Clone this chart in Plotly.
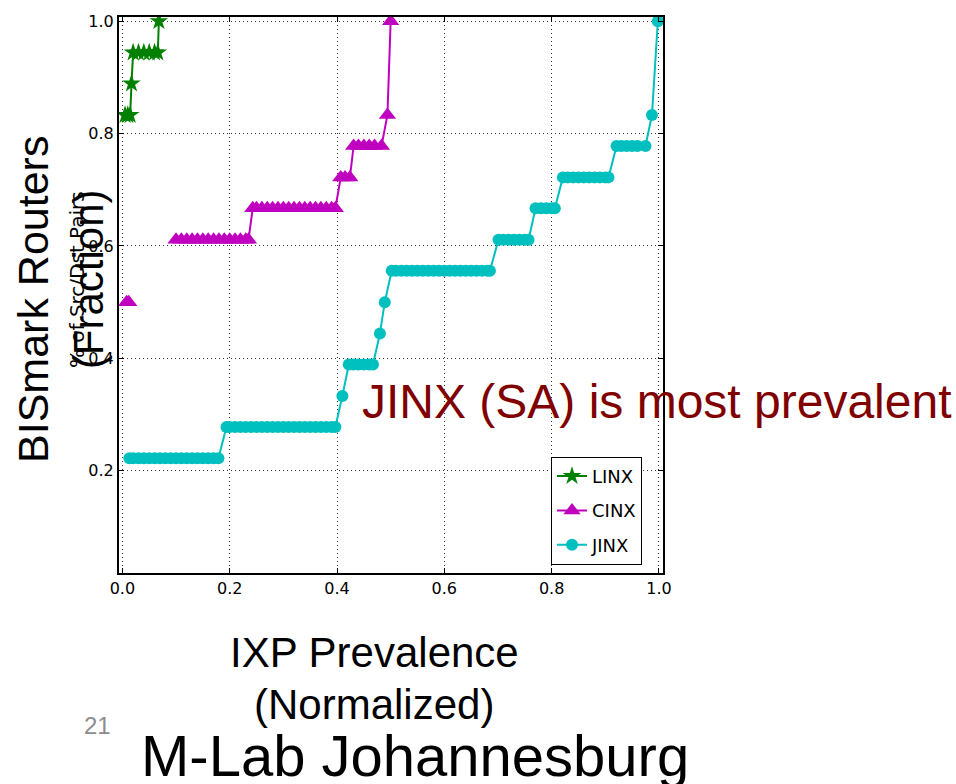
import plotly.graph_objects as go

# ---------------- data ----------------
linx_x = [0.005, 0.010, 0.0145, 0.017, 0.020, 0.030, 0.040, 0.050, 0.060, 0.066, 0.068]
linx_y = [0.833, 0.833, 0.833, 0.889, 0.944, 0.944, 0.944, 0.944, 0.944, 0.944, 1.000]

cinx_x = [0.008, 0.012, None,
          0.100, 0.110, 0.120, 0.130, 0.140, 0.150, 0.160, 0.170, 0.180, 0.190, 0.200, 0.210, 0.220, 0.230, 0.235,
          0.243, 0.250, 0.260, 0.270, 0.280, 0.290, 0.300, 0.310, 0.320, 0.330, 0.340, 0.350, 0.360, 0.370, 0.380, 0.390, 0.397,
          0.407, 0.415, 0.424,
          0.431, 0.440, 0.450, 0.460, 0.470, 0.483,
          0.494, 0.500]
cinx_y = [0.500, 0.500, None,
          0.611, 0.611, 0.611, 0.611, 0.611, 0.611, 0.611, 0.611, 0.611, 0.611, 0.611, 0.611, 0.611, 0.611, 0.611,
          0.667, 0.667, 0.667, 0.667, 0.667, 0.667, 0.667, 0.667, 0.667, 0.667, 0.667, 0.667, 0.667, 0.667, 0.667, 0.667, 0.667,
          0.722, 0.722, 0.722,
          0.778, 0.778, 0.778, 0.778, 0.778, 0.778,
          0.833, 1.000]

jinx_x = [0.013, 0.020, 0.030, 0.040, 0.050, 0.060, 0.070, 0.080, 0.090, 0.100, 0.110, 0.120, 0.130, 0.140, 0.150, 0.160, 0.170, 0.179,
          0.194, 0.200, 0.210, 0.220, 0.230, 0.240, 0.250, 0.260, 0.270, 0.280, 0.290, 0.300, 0.310, 0.320, 0.330, 0.340, 0.350, 0.360, 0.370, 0.380, 0.390, 0.397,
          0.410,
          0.422, 0.430, 0.440, 0.450, 0.460, 0.467,
          0.480,
          0.489,
          0.502, 0.510, 0.520, 0.530, 0.540, 0.550, 0.560, 0.570, 0.580, 0.590, 0.600, 0.610, 0.620, 0.630, 0.640, 0.650, 0.660, 0.670, 0.680, 0.685,
          0.701, 0.710, 0.720, 0.730, 0.740, 0.750, 0.757,
          0.770, 0.780, 0.790, 0.800, 0.806,
          0.821, 0.830, 0.840, 0.850, 0.860, 0.870, 0.880, 0.890, 0.900, 0.906,
          0.921, 0.930, 0.940, 0.950, 0.960, 0.975,
          0.987,
          0.998]
jinx_y = [0.222, 0.222, 0.222, 0.222, 0.222, 0.222, 0.222, 0.222, 0.222, 0.222, 0.222, 0.222, 0.222, 0.222, 0.222, 0.222, 0.222, 0.222,
          0.278, 0.278, 0.278, 0.278, 0.278, 0.278, 0.278, 0.278, 0.278, 0.278, 0.278, 0.278, 0.278, 0.278, 0.278, 0.278, 0.278, 0.278, 0.278, 0.278, 0.278, 0.278,
          0.333,
          0.389, 0.389, 0.389, 0.389, 0.389, 0.389,
          0.444,
          0.500,
          0.556, 0.556, 0.556, 0.556, 0.556, 0.556, 0.556, 0.556, 0.556, 0.556, 0.556, 0.556, 0.556, 0.556, 0.556, 0.556, 0.556, 0.556, 0.556, 0.556,
          0.611, 0.611, 0.611, 0.611, 0.611, 0.611, 0.611,
          0.667, 0.667, 0.667, 0.667, 0.667,
          0.722, 0.722, 0.722, 0.722, 0.722, 0.722, 0.722, 0.722, 0.722, 0.722,
          0.778, 0.778, 0.778, 0.778, 0.778, 0.778,
          0.833,
          1.000]

x_ticks = [0.0, 0.2, 0.4, 0.6, 0.8, 1.0]
x_tick_labels = ["0.0", "0.2", "0.4", "0.6", "0.8", "1.0"]
y_ticks = [0.2, 0.4, 0.6, 0.8, 1.0]
y_tick_labels = ["0.2", "0.4", "0.6", "0.8", "1.0"]

# ---------------- figure ----------------
W, H = 956, 784
L, R, T, B = 119, 663, 13, 573   # plot area in pixels
fig = go.Figure()

fig.add_trace(go.Scatter(x=linx_x, y=linx_y, name="LINX", mode="lines+markers",
                         line=dict(color="#008000", width=2),
                         marker=dict(symbol="star", size=14, color="#008000"),
                         legendgroup="a", connectgaps=False))
fig.add_trace(go.Scatter(x=cinx_x, y=cinx_y, name="CINX", mode="lines+markers",
                         line=dict(color="#bf00bf", width=2),
                         marker=dict(symbol="triangle-up", size=15, color="#bf00bf"),
                         legendgroup="b", connectgaps=False))
fig.add_trace(go.Scatter(x=jinx_x, y=jinx_y, name="JINX", mode="lines+markers",
                         line=dict(color="#00bfbf", width=2),
                         marker=dict(symbol="circle", size=12, color="#00bfbf"),
                         legendgroup="c", connectgaps=False))

axis_common = dict(showline=True, linewidth=2, linecolor="black", mirror="allticks",
                   ticks="inside", ticklen=5, tickwidth=1, tickcolor="black",
                   showgrid=True, gridcolor="#333333", gridwidth=1, griddash="1px,3px",
                   zeroline=False,
                   tickfont=dict(family="DejaVu Sans", size=16, color="black"))

fig.update_xaxes(range=[-0.0063, 1.0076], tickvals=x_ticks, ticktext=x_tick_labels, **axis_common)
fig.update_yaxes(range=[0.018, 1.0074], tickvals=y_ticks, ticktext=y_tick_labels, **axis_common)

def px(x, y):
    # convert page pixels to plot-area (paper) fractions
    return (x - L) / (R - L), (B - y) / (B - T)

annots = []
def add_text(text, x, y, size, color="black", family="Liberation Sans, Arial", angle=0, xanchor="center"):
    ax, ay = px(x, y)
    annots.append(dict(text=text, x=ax, y=ay, xref="paper", yref="paper", showarrow=False,
                       xanchor=xanchor, yanchor="middle", textangle=angle,
                       font=dict(family=family, size=size, color=color)))

add_text("BISmark Routers", 33, 298, 43, angle=-90)
add_text("% of Src/Dst Pairs", 77, 278, 20, family="DejaVu Sans", angle=-90)
add_text("(Fraction)", 88, 277, 42, angle=-90)
add_text("JINX (SA) is most prevalent", 360, 400, 48, color="#800000", xanchor="left")
add_text("IXP Prevalence", 374, 653, 42)
add_text("(Normalized)", 374, 705, 42)
add_text("21", 97, 727, 24, color="#8c8c8c")
add_text("M-Lab Johannesburg", 415, 757, 58)

lx, ly = px(551, 456)
fig.update_layout(
    width=W, height=H,
    margin=dict(l=L, r=W - R, t=T, b=H - B, pad=0),
    paper_bgcolor="white", plot_bgcolor="white",
    showlegend=True,
    legend=dict(x=lx, y=ly, xanchor="left", yanchor="top",
                bgcolor="white", bordercolor="black", borderwidth=1,
                font=dict(family="DejaVu Sans", size=18, color="black"),
                tracegroupgap=8, itemwidth=30),
    annotations=annots,
)

fig.write_html("out.html")
